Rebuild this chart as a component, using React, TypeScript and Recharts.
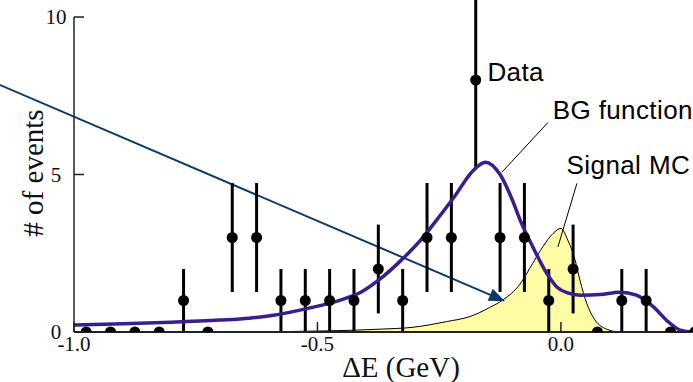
import React from 'react';
import {
  ComposedChart,
  XAxis,
  YAxis,
  Line,
  Area,
  Scatter,
  ErrorBar,
  ReferenceLine,
  ReferenceDot,
} from 'recharts';

// ---- data ----
const binCenters = [
  -0.975, -0.925, -0.875, -0.825, -0.775, -0.725, -0.675, -0.625, -0.575, -0.525,
  -0.475, -0.425, -0.375, -0.325, -0.275, -0.225, -0.175, -0.125, -0.075, -0.025,
  0.025, 0.075, 0.125, 0.175, 0.225, 0.275,
];
const counts = [0, 0, 0, 0, 1, 0, 3, 3, 1, 1, 1, 1, 2, 1, 3, 3, 8, 3, 3, 1, 2, 0, 1, 1, 0, 0];
const countErrors = [
  0, 0, 0, 0, 1, 0, 1.73, 1.73, 1, 1, 1, 1, 1.41, 1, 1.73, 1.73, 2.83, 1.73, 1.73, 1, 1.41, 0,
  1, 1, 0, 0,
];

const bgX = [
  -1.0, -0.9, -0.8, -0.7, -0.64, -0.59, -0.52, -0.45, -0.41, -0.37, -0.33, -0.285, -0.255,
  -0.22, -0.18, -0.155, -0.125, -0.1, -0.084, -0.058, -0.029, -0.009, 0.012, 0.04, 0.08,
  0.121, 0.155, 0.19, 0.22, 0.245, 0.27, 0.3,
];
const bgY = [
  0.22, 0.26, 0.31, 0.38, 0.44, 0.53, 0.75, 1.03, 1.27, 1.7, 2.25, 2.97, 3.56, 4.27, 5.13,
  5.39, 5.0, 4.2, 3.56, 2.71, 1.86, 1.44, 1.25, 1.17, 1.19, 1.26, 1.17, 0.8, 0.33, 0.06, 0,
  0,
];

const sigX = [
  -1.0, -0.6, -0.5, -0.42, -0.372, -0.304, -0.235, -0.187, -0.146, -0.119, -0.084, -0.058,
  -0.037, -0.016, 0.0, 0.014, 0.029, 0.039, 0.053, 0.07, 0.094, 0.121, 0.3,
];
const sigY = [
  0, 0.01, 0.03, 0.06, 0.09, 0.15, 0.33, 0.49, 0.78, 1.02, 1.52, 2.18, 2.71, 3.13, 3.29, 2.92,
  2.29, 1.65, 0.91, 0.38, 0.09, 0, 0,
];

const xTicks = [-1, -0.5, 0];
const xTickLabels = ['-1.0', '-0.5', '0.0'];
const yTicks = [0, 5, 10];
const yTickLabels = ['0', '5', '10'];

const annotationLabels = ['Data', 'BG function', 'Signal MC'];
const annotationX = [-0.151, -0.017, 0.0117];
const annotationY = [7.97, 6.76, 5.02];

const arrowSegment = [
  { x: -1.17, y: 7.96 },
  { x: -0.115, y: 0.98 },
];
const bgLeader = [
  { x: -0.0267, y: 6.65 },
  { x: -0.1214, y: 5.07 },
];
const sigLeader = [
  { x: 0.0329, y: 4.72 },
  { x: -0.0062, y: 2.7 },
];

const points = binCenters.map((x, i) => ({ x, y: counts[i], err: countErrors[i] }));
const bgData = bgX.map((x, i) => ({ x, y: bgY[i] }));
const sigData = sigX.map((x, i) => ({ x, y: sigY[i] }));

// ---- styles ----
const SERIF = "'Liberation Serif','Times New Roman',Times,serif";
const SANS = "'Liberation Sans',Arial,Helvetica,sans-serif";
const AXIS = '#222';
const PURPLE = '#3a1d8f';
const ARROW = '#0c3b6b';
const YELLOW = '#fffca6';

function BottomTick(props: any) {
  const { x, y, payload } = props;
  const i = xTicks.indexOf(payload.value);
  return (
    <g>
      <line x1={x} y1={y} x2={x} y2={y - 10} stroke={AXIS} strokeWidth={1.5} />
      <text x={x} y={y + 19} textAnchor="middle" fontFamily={SERIF} fontSize={21} fill="#111">
        {xTickLabels[i]}
      </text>
    </g>
  );
}

function TopTick(props: any) {
  const { x, y } = props;
  return <line x1={x} y1={y} x2={x} y2={y + 10} stroke={AXIS} strokeWidth={1.5} />;
}

function LeftTick(props: any) {
  const { x, y, payload } = props;
  const i = yTicks.indexOf(payload.value);
  return (
    <g>
      <line x1={x} y1={y} x2={x + 10} y2={y} stroke={AXIS} strokeWidth={1.5} />
      <text x={x - 18} y={y + 7} textAnchor="middle" fontFamily={SERIF} fontSize={21} fill="#111">
        {yTickLabels[i]}
      </text>
    </g>
  );
}

function XTitle(props: any) {
  const vb = props.viewBox || { x: 74, y: 332, width: 633, height: 50 };
  return (
    <text x={vb.x + 327} y={vb.y + 45} textAnchor="middle" fontFamily={SERIF} fontSize={29} fill="#111">
      ΔE (GeV)
    </text>
  );
}

function YTitle(props: any) {
  const vb = props.viewBox || { x: 0, y: 17, width: 74, height: 315 };
  const cx = vb.x + 43;
  const cy = vb.y + 156;
  return (
    <text
      x={cx}
      y={cy}
      transform={`rotate(-90, ${cx}, ${cy})`}
      textAnchor="middle"
      fontFamily={SERIF}
      fontSize={29}
      fill="#111"
    >
      # of events
    </text>
  );
}

function ArrowShape(props: any) {
  const { x1, y1, x2, y2 } = props;
  const ang = Math.atan2(y2 - y1, x2 - x1);
  const len = 16;
  const hw = 6.5;
  const bx = x2 - len * Math.cos(ang);
  const by = y2 - len * Math.sin(ang);
  const px = -Math.sin(ang);
  const py = Math.cos(ang);
  return (
    <g>
      <line x1={x1} y1={y1} x2={bx + 2 * Math.cos(ang)} y2={by + 2 * Math.sin(ang)} stroke={ARROW} strokeWidth={2} />
      <polygon
        points={`${x2},${y2} ${bx + hw * px},${by + hw * py} ${bx - hw * px},${by - hw * py}`}
        fill={ARROW}
      />
    </g>
  );
}

function LeaderShape(props: any) {
  const { x1, y1, x2, y2 } = props;
  return <line x1={x1} y1={y1} x2={x2} y2={y2} stroke="#000" strokeWidth={1} />;
}

function makeLabelShape(text: string) {
  return (props: any) => (
    <text x={props.cx} y={props.cy} fontFamily={SANS} fontSize={26} letterSpacing={0.4} fill="#000">
      {text}
    </text>
  );
}

function DotShape(props: any) {
  return <circle cx={props.cx} cy={props.cy} r={5.5} fill="#000" />;
}

export default function App() {
  return (
    <div
      style={{
        position: 'absolute',
        left: 0,
        top: 0,
        width: 693,
        height: 382,
        overflow: 'hidden',
        background: '#fff',
      }}
    >
      <ComposedChart width={720} height={382} margin={{ top: 17, right: 13, bottom: 0, left: 0 }}>
        <XAxis
          xAxisId={0}
          type="number"
          dataKey="x"
          domain={[-1, 0.3]}
          allowDataOverflow
          ticks={xTicks}
          interval={0}
          height={50}
          tickSize={0}
          tickMargin={0}
          tickLine={false}
          axisLine={{ stroke: AXIS, strokeWidth: 2 }}
          tick={<BottomTick />}
          label={<XTitle />}
        />
        <XAxis
          xAxisId="top"
          orientation="top"
          type="number"
          dataKey="x"
          domain={[-1, 0.3]}
          allowDataOverflow
          ticks={[-0.5, 0]}
          interval={0}
          height={0}
          tickSize={0}
          tickMargin={0}
          tickLine={false}
          axisLine={{ stroke: AXIS, strokeWidth: 1.5 }}
          tick={<TopTick />}
        />
        <YAxis
          type="number"
          dataKey="y"
          domain={[0, 10]}
          allowDataOverflow
          ticks={yTicks}
          interval={0}
          width={74}
          tickSize={0}
          tickMargin={0}
          tickLine={false}
          axisLine={{ stroke: AXIS, strokeWidth: 1.5 }}
          tick={<LeftTick />}
          label={<YTitle />}
        />
        <Area
          data={sigData}
          dataKey="y"
          type="monotone"
          stroke="#000"
          strokeWidth={1}
          fill={YELLOW}
          fillOpacity={1}
          isAnimationActive={false}
          dot={false}
          activeDot={false}
        />
        <ReferenceLine
          segment={arrowSegment}
          ifOverflow="visible"
          shape={<ArrowShape />}
        />
        <Scatter data={points} dataKey="y" shape={<DotShape />} isAnimationActive={false}>
          <ErrorBar dataKey="err" direction="y" width={0} stroke="#000" strokeWidth={3} isAnimationActive={false} />
        </Scatter>
        <Line
          data={bgData}
          dataKey="y"
          type="monotone"
          stroke={PURPLE}
          strokeWidth={3.5}
          dot={false}
          activeDot={false}
          isAnimationActive={false}
        />
        <ReferenceLine segment={bgLeader} ifOverflow="visible" shape={<LeaderShape />} />
        <ReferenceLine segment={sigLeader} ifOverflow="visible" shape={<LeaderShape />} />
        {annotationLabels.map((t, i) => (
          <ReferenceDot
            key={t}
            x={annotationX[i]}
            y={annotationY[i]}
            r={0}
            ifOverflow="visible"
            shape={makeLabelShape(t)}
          />
        ))}
      </ComposedChart>
    </div>
  );
}
